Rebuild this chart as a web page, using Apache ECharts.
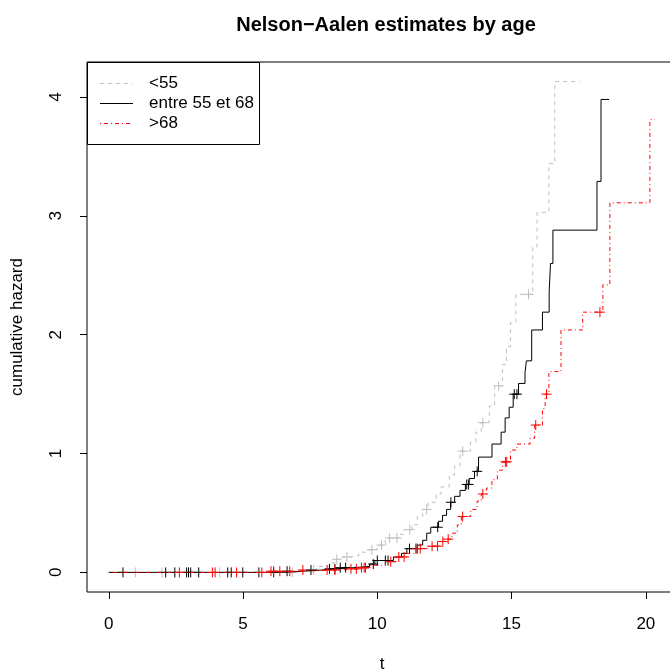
<!DOCTYPE html>
<html>
<head>
<meta charset="utf-8">
<script src="https://cdn.jsdelivr.net/npm/echarts@6/dist/echarts.min.js"></script>
<style>
  html, body { margin: 0; padding: 0; background: #fff; }
  #chart { width: 670px; height: 672px; }
</style>
</head>
<body>
<div id="chart"></div>
<script>
// Nelson–Aalen cumulative hazard step functions, one per age group.
// Each curve: jump times (t) and the cumulative hazard after each jump.
const groupNames = ['<55', 'entre 55 et 68', '>68'];

const youngTimes  = [0, 6.93, 7.73, 8.22, 8.42, 8.7, 9.02, 9.31, 9.61, 10.0, 10.3, 10.4, 10.8, 11.0, 11.29, 11.49, 11.69, 11.89, 12.19, 12.38, 12.68, 12.88, 13.08, 13.47, 13.67, 13.87, 14.17, 14.37, 14.66, 14.81, 14.96, 15.16, 15.79, 15.95, 16.39, 16.61, 17.54];
const youngHazard = [0, 0.02, 0.05, 0.08, 0.11, 0.13, 0.14, 0.17, 0.19, 0.23, 0.27, 0.29, 0.32, 0.36, 0.40, 0.47, 0.53, 0.59, 0.66, 0.72, 0.82, 0.90, 1.02, 1.10, 1.18, 1.26, 1.40, 1.57, 1.75, 1.90, 2.10, 2.34, 2.74, 3.03, 3.44, 4.13, 4.13];
const youngCensored = [0.99, 1.98, 4.13, 6.84, 7.63, 8.49, 8.87, 9.8, 10.16, 10.46, 10.73, 11.21, 11.84, 13.18, 13.93, 14.52, 15.63];

const midTimes  = [0, 6.44, 7.23, 7.93, 8.52, 9.12, 9.71, 9.91, 10.6, 10.9, 11.1, 11.49, 11.69, 11.84, 11.99, 12.28, 12.43, 12.58, 12.73, 12.88, 13.08, 13.28, 13.42, 13.62, 13.77, 14.27, 14.61, 14.76, 14.91, 15.06, 15.26, 15.5, 15.55, 15.75, 16.15, 16.4, 16.45, 16.54, 18.18, 18.33, 18.63];
const midHazard = [0, 0.01, 0.02, 0.03, 0.04, 0.05, 0.07, 0.10, 0.13, 0.16, 0.20, 0.23, 0.27, 0.33, 0.38, 0.43, 0.48, 0.53, 0.59, 0.64, 0.69, 0.74, 0.79, 0.85, 0.97, 1.08, 1.18, 1.30, 1.39, 1.50, 1.59, 1.68, 1.78, 2.04, 2.19, 2.36, 2.60, 2.88, 3.29, 3.98, 3.98];
const midCensored = [0.53, 2.12, 2.46, 2.9, 2.97, 3.05, 3.35, 4.43, 4.56, 4.99, 5.59, 6.14, 6.64, 7.53, 8.22, 8.42, 8.62, 8.82, 9.85, 10.0, 10.3, 10.4, 11.2, 11.44, 12.25, 12.74, 13.33, 13.4, 13.72, 15.1, 15.2];

const oldTimes  = [0, 5.95, 7.23, 8.52, 9.41, 9.71, 10.3, 10.7, 11.1, 11.49, 11.89, 12.29, 12.49, 12.78, 12.98, 13.13, 13.48, 13.72, 13.87, 14.07, 14.27, 14.47, 14.67, 14.96, 15.2, 15.69, 15.86, 16.15, 16.25, 16.39, 16.84, 17.65, 18.4, 18.66, 20.15, 20.34];
const oldHazard = [0, 0.01, 0.02, 0.03, 0.04, 0.06, 0.09, 0.13, 0.16, 0.20, 0.22, 0.26, 0.28, 0.33, 0.40, 0.47, 0.53, 0.60, 0.66, 0.71, 0.78, 0.86, 0.93, 1.03, 1.08, 1.13, 1.24, 1.38, 1.50, 1.69, 2.04, 2.19, 2.42, 3.11, 3.81, 3.81];
const oldCensored = [2.63, 3.86, 3.96, 4.76, 5.7, 6.04, 6.14, 6.37, 6.74, 7.23, 8.13, 8.42, 9.02, 9.22, 9.41, 9.51, 9.56, 10.5, 10.8, 11.0, 11.49, 11.6, 12.04, 12.24, 12.44, 12.64, 13.18, 13.93, 14.77, 14.82, 15.9, 16.3, 18.29];

const xTicks = [0, 5, 10, 15, 20];
const yTicks = [0, 1, 2, 3, 4];

const FONT = '"Liberation Sans", Arial, Helvetica, sans-serif';
const FS = 17;
const colors = ['#bebebe', '#000000', '#ff0000'];
const dashes = [[4, 4], 'solid', [1, 3, 4, 3]];

function pairs(ts, hs) { return ts.map((t, i) => [t, hs[i]]); }
// value of the right-continuous step function at time t
function hazardAt(ts, hs, t) {
  let v = 0;
  for (let i = 0; i < ts.length; i++) { if (ts[i] <= t) v = hs[i]; }
  return v;
}
function censorPoints(ts, hs, cs) { return cs.map(t => [t, hazardAt(ts, hs, t)]); }

function crossRenderer(color) {
  return function (params, api) {
    const p = api.coord([api.value(0), api.value(1)]);
    const s = 5;
    const st = { stroke: color, lineWidth: 1 };
    return {
      type: 'group',
      children: [
        { type: 'line', shape: { x1: p[0] - s, y1: p[1], x2: p[0] + s, y2: p[1] }, style: st },
        { type: 'line', shape: { x1: p[0], y1: p[1] - s, x2: p[0], y2: p[1] + s }, style: st }
      ]
    };
  };
}

const curves = [
  [youngTimes, youngHazard, youngCensored],
  [midTimes, midHazard, midCensored],
  [oldTimes, oldHazard, oldCensored]
];

const series = [];
curves.forEach((c, i) => {
  series.push({
    name: groupNames[i],
    type: 'line',
    step: 'end',
    showSymbol: false,
    animation: false,
    data: pairs(c[0], c[1]),
    lineStyle: { color: colors[i], width: 1, type: dashes[i] },
    z: 2 + i * 2
  });
  series.push({
    type: 'custom',
    animation: false,
    renderItem: crossRenderer(colors[i]),
    data: censorPoints(c[0], c[1], c[2]),
    z: 3 + i * 2
  });
});

// legend box in the top-left corner of the plot
const legendItems = groupNames.map((name, i) => {
  const y = 83.5 + i * 20;
  return [
    { type: 'line', shape: { x1: 100, y1: y, x2: 133, y2: y },
      style: { stroke: colors[i], lineWidth: 1, lineDash: dashes[i] === 'solid' ? null : dashes[i] } },
    { type: 'text', x: 149, y: y,
      style: { text: name, fill: '#000', font: FS + 'px ' + FONT, textVerticalAlign: 'middle' } }
  ];
}).flat();

const chart = echarts.init(document.getElementById('chart'), null, { renderer: 'canvas' });
chart.setOption({
  backgroundColor: '#fff',
  animation: false,
  title: {
    text: 'Nelson\u2212Aalen estimates by age',
    left: 381,
    top: 10,
    textAlign: 'center',
    textStyle: { fontFamily: FONT, fontSize: 20, fontWeight: 'bold', color: '#000' }
  },
  grid: {
    left: 87, top: 62, width: 590, height: 530,
    outerBoundsMode: 'none',
    containLabel: false,
    show: true, borderColor: '#000', borderWidth: 1, backgroundColor: 'transparent'
  },
  xAxis: {
    type: 'value',
    min: -0.81, max: 21.16,
    name: 't',
    nameLocation: 'middle',
    nameGap: 64,
    nameTextStyle: { fontFamily: FONT, fontSize: FS, color: '#000' },
    axisLine: { show: false, onZero: false },
    splitLine: { show: false },
    axisTick: { show: true, length: 7, inside: false, customValues: xTicks, lineStyle: { color: '#000' } },
    axisLabel: { customValues: xTicks, margin: 24, fontFamily: FONT, fontSize: FS, color: '#000' }
  },
  yAxis: {
    type: 'value',
    min: -0.165, max: 4.295,
    name: 'cumulative hazard',
    nameLocation: 'middle',
    nameGap: 61,
    nameTextStyle: { fontFamily: FONT, fontSize: FS, color: '#000' },
    axisLine: { show: false, onZero: false },
    splitLine: { show: false },
    axisTick: { show: true, length: 7, inside: false, customValues: yTicks, lineStyle: { color: '#000' } },
    axisLabel: { customValues: yTicks, rotate: 90, margin: 22, fontFamily: FONT, fontSize: FS, color: '#000' }
  },
  graphic: [
    { type: 'rect', shape: { x: 87.5, y: 62.5, width: 172, height: 82 },
      style: { fill: '#fff', stroke: '#000', lineWidth: 1 }, z: 100 },
    ...legendItems.map(e => Object.assign(e, { z: 101 }))
  ],
  series: series
});
</script>
</body>
</html>
